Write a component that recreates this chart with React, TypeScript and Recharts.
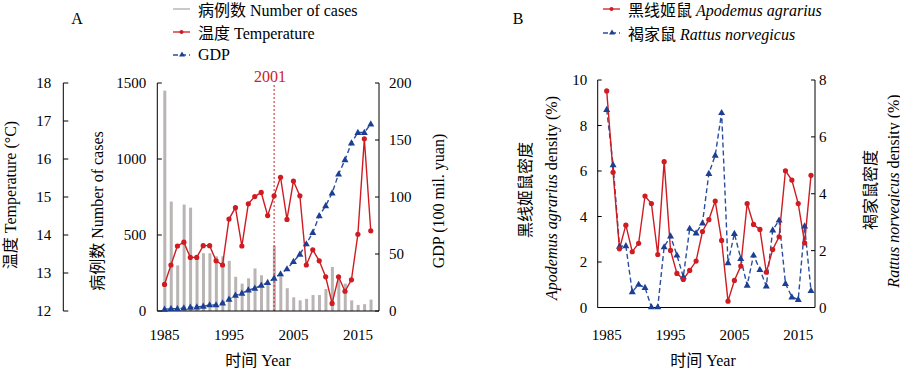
import React from 'react';
import {
  ComposedChart,
  LineChart,
  Bar,
  Line,
  XAxis,
  YAxis,
  ReferenceLine,
  Legend,
  Label,
} from 'recharts';

const FONT = '"Liberation Serif", "Times New Roman", "Noto Sans CJK SC", serif';
const RED = '#cf1c22';
const NAVY = '#1c3f94';
const BLUE_LINE = '#2a4d9e';
const GRAY = '#bab4b4';

const years = [
  1985, 1986, 1987, 1988, 1989, 1990, 1991, 1992, 1993, 1994, 1995, 1996, 1997, 1998, 1999, 2000, 2001,
  2002, 2003, 2004, 2005, 2006, 2007, 2008, 2009, 2010, 2011, 2012, 2013, 2014, 2015, 2016, 2017,
];
const caseCounts = [
  1450, 720, 300, 700, 680, 340, 380, 380, 360, 360, 330, 225, 180, 215, 280, 235, 170,
  430, 235, 150, 90, 70, 80, 105, 105, 145, 290, 215, 180, 70, 40, 45, 75,
];
const temperatures = [
  12.7, 13.21, 13.71, 13.81, 13.41, 13.41, 13.72, 13.72, 13.32, 13.21, 14.42, 14.72, 13.71, 14.82, 15.01, 15.12, 14.51,
  15.03, 15.52, 14.41, 15.42, 15.03, 13.21, 13.61, 13.32, 12.9, 12.2, 12.9, 12.52, 12.82, 14.02, 16.53, 14.11,
];
const gdpValues = [
  1.5, 2, 2, 2.6, 3.2, 3.5, 4.1, 5.3, 5.3, 7, 10.2, 13.8, 15.5, 18.4, 19.9, 22.5, 24.9,
  28.7, 32.5, 36.9, 43.3, 49.8, 58.8, 68.8, 83.4, 92.2, 103.4, 120, 132.6, 147.3, 156.6, 156.6, 164,
];
const apodemusDensity = [
  9.52, 5.94, 2.58, 3.62, 2.45, 2.82, 4.9, 4.57, 2.33, 6.41, 2.51, 1.5, 1.23, 1.63, 2.04, 3.34, 3.86,
  4.68, 2.95, 0.28, 1.19, 1.82, 4.57, 3.65, 3.43, 1.55, 2.55, 3.11, 6.01, 5.6, 4.57, 2.84, 5.81,
];
const rattusDensity = [
  6.96, 5.02, 2.15, 2.17, 0.55, 0.81, 0.7, 0.02, 0.02, 2.13, 2.51, 1.84, 1.08, 2.78, 2.62, 2.97, 4.71,
  5.35, 6.85, 1.57, 2.6, 1.72, 0.78, 1.84, 1.33, 0.75, 2.72, 3.07, 0.84, 0.37, 0.28, 2.86, 0.59,
];

const xTickLabels = [1985, 1995, 2005, 2015];
const tempTicks = [12, 13, 14, 15, 16, 17, 18];
const caseTicks = [0, 500, 1000, 1500];
const gdpTicks = [0, 50, 100, 150, 200];
const apodemusTicks = [0, 2, 4, 6, 8, 10];
const rattusTicks = [0, 2, 4, 6, 8];
const markedYear = 2002;
const markedLabel = '2001';

const dataA = years.map((year, i) => ({
  year,
  cases: caseCounts[i],
  temp: temperatures[i],
  gdp: gdpValues[i],
}));
const dataB = years.map((year, i) => ({
  year,
  apodemus: apodemusDensity[i],
  rattus: rattusDensity[i],
}));

const TXT: React.CSSProperties = { fontFamily: FONT };

const makeYTick = (side: 'left' | 'right', margin: number, len: number) => (props: any) => {
  const { x, y, payload } = props;
  const axisX = side === 'left' ? x + margin : x - margin;
  const x2 = side === 'left' ? axisX + len : axisX - len;
  return (
    <g>
      <line x1={axisX} x2={x2} y1={y} y2={y} stroke="#000" strokeWidth={1} />
      <text
        x={x}
        y={y}
        dy="0.36em"
        textAnchor={side === 'left' ? 'end' : 'start'}
        fontSize={15}
        fill="#000"
        style={TXT}
      >
        {payload.value}
      </text>
    </g>
  );
};

const XTick = (props: any) => {
  const { x, y, payload } = props;
  return (
    <text x={x} y={y} dy="0.71em" textAnchor="middle" fontSize={15} fill="#000" style={TXT}>
      {payload.value}
    </text>
  );
};

const Triangle = (props: any) => {
  const { cx, cy } = props;
  if (cx == null || cy == null) return <g />;
  return (
    <polygon
      points={`${cx},${cy - 3.8} ${cx - 3.5},${cy + 2.4} ${cx + 3.5},${cy + 2.4}`}
      fill={NAVY}
    />
  );
};

const RotText = ({ x, y, children, size = 16 }: any) => (
  <text
    transform={`translate(${x},${y}) rotate(-90)`}
    textAnchor="middle"
    dominantBaseline="central"
    fontSize={size}
    fill="#000"
    style={TXT}
  >
    {children}
  </text>
);

const PlainText = ({ x, y, children, size = 16, fill = '#000' }: any) => (
  <text x={x} y={y} textAnchor="middle" dominantBaseline="central" fontSize={size} fill={fill} style={TXT}>
    {children}
  </text>
);

type Item = { label: React.ReactNode; kind: 'bar' | 'red' | 'blue' };

const LegendIcon = ({ kind }: { kind: Item['kind'] }) => (
  <svg width={25} height={12} style={{ display: 'block', flex: 'none' }}>
    {kind === 'bar' && <line x1={0} x2={17} y1={6} y2={6} stroke="#c9c9c9" strokeWidth={2} />}
    {kind === 'red' && (
      <g>
        <line x1={0} x2={17} y1={6} y2={6} stroke={RED} strokeWidth={1.3} />
        <circle cx={8.5} cy={6} r={2} fill={RED} />
      </g>
    )}
    {kind === 'blue' && (
      <g>
        <line x1={0} x2={17} y1={6} y2={6} stroke={BLUE_LINE} strokeWidth={1.3} strokeDasharray="5 3" />
        <polygon points="9,2.5 6,7.5 12,7.5" fill={NAVY} />
      </g>
    )}
  </svg>
);

const makeLegend = (items: Item[], rowH: number) => () => (
  <div style={{ fontFamily: FONT, fontSize: 16, color: '#000' }}>
    {items.map((it, i) => (
      <div key={i} style={{ display: 'flex', alignItems: 'center', height: rowH, whiteSpace: 'nowrap' }}>
        <LegendIcon kind={it.kind} />
        <span>{it.label}</span>
      </div>
    ))}
  </div>
);

const legendA = makeLegend(
  [
    { label: '病例数 Number of cases', kind: 'bar' },
    { label: '温度 Temperature', kind: 'red' },
    { label: 'GDP', kind: 'blue' },
  ],
  23
);
const legendB = makeLegend(
  [
    { label: <>黑线姬鼠 <i>Apodemus agrarius</i></>, kind: 'red' },
    { label: <>褐家鼠 <i>Rattus norvegicus</i></>, kind: 'blue' },
  ],
  24
);

const PanelA = () => (
  <ComposedChart width={450} height={368} data={dataA} margin={{ top: 83, right: 0, bottom: 27, left: 0 }}>
    <XAxis
      dataKey="year"
      xAxisId="x"
      ticks={xTickLabels}
      interval={0}
      tickLine={false}
      tickSize={0}
      tickMargin={18}
      height={30}
      padding={{ left: 4, right: 5 }}
      axisLine={{ stroke: '#000', strokeWidth: 1 }}
      tick={<XTick />}
    >
      <Label content={() => <PlainText x={258} y={360}>时间 Year</PlainText>} />
    </XAxis>
    <YAxis
      yAxisId="cases"
      orientation="left"
      width={94}
      domain={[0, 1500]}
      ticks={caseTicks}
      interval={0}
      tickSize={0}
      tickMargin={11}
      tickLine={false}
      axisLine={{ stroke: '#000', strokeWidth: 1 }}
      tick={makeYTick('left', 11, 4.5)}
    >
      <Label content={() => <RotText x={97} y={211}>病例数 Number of cases</RotText>} />
    </YAxis>
    <YAxis
      yAxisId="temp"
      orientation="left"
      width={63.3}
      domain={[12, 18]}
      ticks={tempTicks}
      interval={0}
      tickSize={0}
      tickMargin={12}
      tickLine={false}
      axisLine={{ stroke: '#000', strokeWidth: 1 }}
      tick={makeYTick('left', 12, 5)}
    >
      <Label content={() => <RotText x={10} y={195}>温度 Temperature (°C)</RotText>} />
    </YAxis>
    <YAxis
      yAxisId="gdp"
      orientation="right"
      width={71}
      domain={[0, 200]}
      ticks={gdpTicks}
      interval={0}
      tickSize={0}
      tickMargin={10}
      tickLine={false}
      axisLine={{ stroke: '#000', strokeWidth: 1 }}
      tick={makeYTick('right', 10, 4)}
    >
      <Label content={() => <RotText x={438} y={201}>GDP (100 mil. yuan)</RotText>} />
    </YAxis>
    <Bar dataKey="cases" xAxisId="x" yAxisId="cases" fill={GRAY} barSize={3} isAnimationActive={false} />
    <ReferenceLine
      x={markedYear}
      xAxisId="x"
      yAxisId="cases"
      stroke={RED}
      strokeDasharray="2 2"
      strokeWidth={1}
      label={(p: any) => (
        <PlainText x={(p.viewBox?.x ?? 274) - 4} y={76} fill={RED}>
          {markedLabel}
        </PlainText>
      )}
    />
    <Line
      dataKey="gdp"
      xAxisId="x"
      yAxisId="gdp"
      stroke={BLUE_LINE}
      strokeWidth={1.4}
      strokeDasharray="5 3"
      dot={(p: any) => <Triangle key={p.index} {...p} />}
      isAnimationActive={false}
    />
    <Line
      dataKey="temp"
      xAxisId="x"
      yAxisId="temp"
      stroke={RED}
      strokeWidth={1.4}
      dot={{ r: 2.6, fill: RED, stroke: RED, strokeWidth: 0 }}
      isAnimationActive={false}
    />
    <Legend
      content={legendA}
      layout="vertical"
      align="center"
      verticalAlign="middle"
      wrapperStyle={{ top: -3, left: 173, width: 270 }}
    />
  </ComposedChart>
);

const PanelB = () => (
  <LineChart width={450} height={368} data={dataB} margin={{ top: 80, right: 0, bottom: 30.5, left: 0 }}>
    <XAxis
      dataKey="year"
      xAxisId="x"
      ticks={xTickLabels}
      interval={0}
      tickLine={false}
      tickSize={0}
      tickMargin={22}
      height={30}
      padding={{ left: 9, right: 4 }}
      axisLine={{ stroke: '#000', strokeWidth: 1 }}
      tick={<XTick />}
    >
      <Label content={() => <PlainText x={253} y={360}>时间 Year</PlainText>} />
    </XAxis>
    <YAxis
      yAxisId="apo"
      orientation="left"
      width={147.7}
      domain={[0, 10]}
      ticks={apodemusTicks}
      interval={0}
      tickSize={0}
      tickMargin={10.5}
      tickLine={false}
      axisLine={{ stroke: '#000', strokeWidth: 1 }}
      tick={makeYTick('left', 10.5, 4)}
    >
      <Label
        content={() => (
          <g>
            <RotText x={75} y={190}>黑线姬鼠密度</RotText>
            <RotText x={101} y={198}>
              <tspan fontStyle="italic">Apodemus agrarius</tspan> density (%)
            </RotText>
          </g>
        )}
      />
    </YAxis>
    <YAxis
      yAxisId="rat"
      orientation="right"
      width={85}
      domain={[0, 8]}
      ticks={rattusTicks}
      interval={0}
      tickSize={0}
      tickMargin={4}
      tickLine={false}
      axisLine={{ stroke: '#000', strokeWidth: 1 }}
      tick={makeYTick('right', 4, 4)}
    >
      <Label
        content={() => (
          <g>
            <RotText x={420} y={190}>褐家鼠密度</RotText>
            <RotText x={443} y={191}>
              <tspan fontStyle="italic">Rattus norvegicus</tspan> density (%)
            </RotText>
          </g>
        )}
      />
    </YAxis>
    <Line
      dataKey="rattus"
      xAxisId="x"
      yAxisId="rat"
      stroke={BLUE_LINE}
      strokeWidth={1.4}
      strokeDasharray="5 3"
      dot={(p: any) => <Triangle key={p.index} {...p} />}
      isAnimationActive={false}
    />
    <Line
      dataKey="apodemus"
      xAxisId="x"
      yAxisId="apo"
      stroke={RED}
      strokeWidth={1.4}
      dot={{ r: 2.6, fill: RED, stroke: RED, strokeWidth: 0 }}
      isAnimationActive={false}
    />
    <Legend
      content={legendB}
      layout="vertical"
      align="center"
      verticalAlign="middle"
      wrapperStyle={{ top: -3.5, left: 153, width: 290 }}
    />
  </LineChart>
);

export default function App() {
  return (
    <div
      style={{
        position: 'absolute',
        left: 0,
        top: 0,
        width: 900,
        height: 368,
        background: '#fff',
        fontFamily: FONT,
      }}
    >
      <div style={{ position: 'absolute', left: 0, top: 0 }}>
        <PanelA />
      </div>
      <div style={{ position: 'absolute', left: 450, top: 0 }}>
        <PanelB />
      </div>
      <svg width={900} height={40} style={{ position: 'absolute', left: 0, top: 0, pointerEvents: 'none' }}>
        <PlainText x={77} y={18}>A</PlainText>
        <PlainText x={518} y={18}>B</PlainText>
      </svg>
    </div>
  );
}
